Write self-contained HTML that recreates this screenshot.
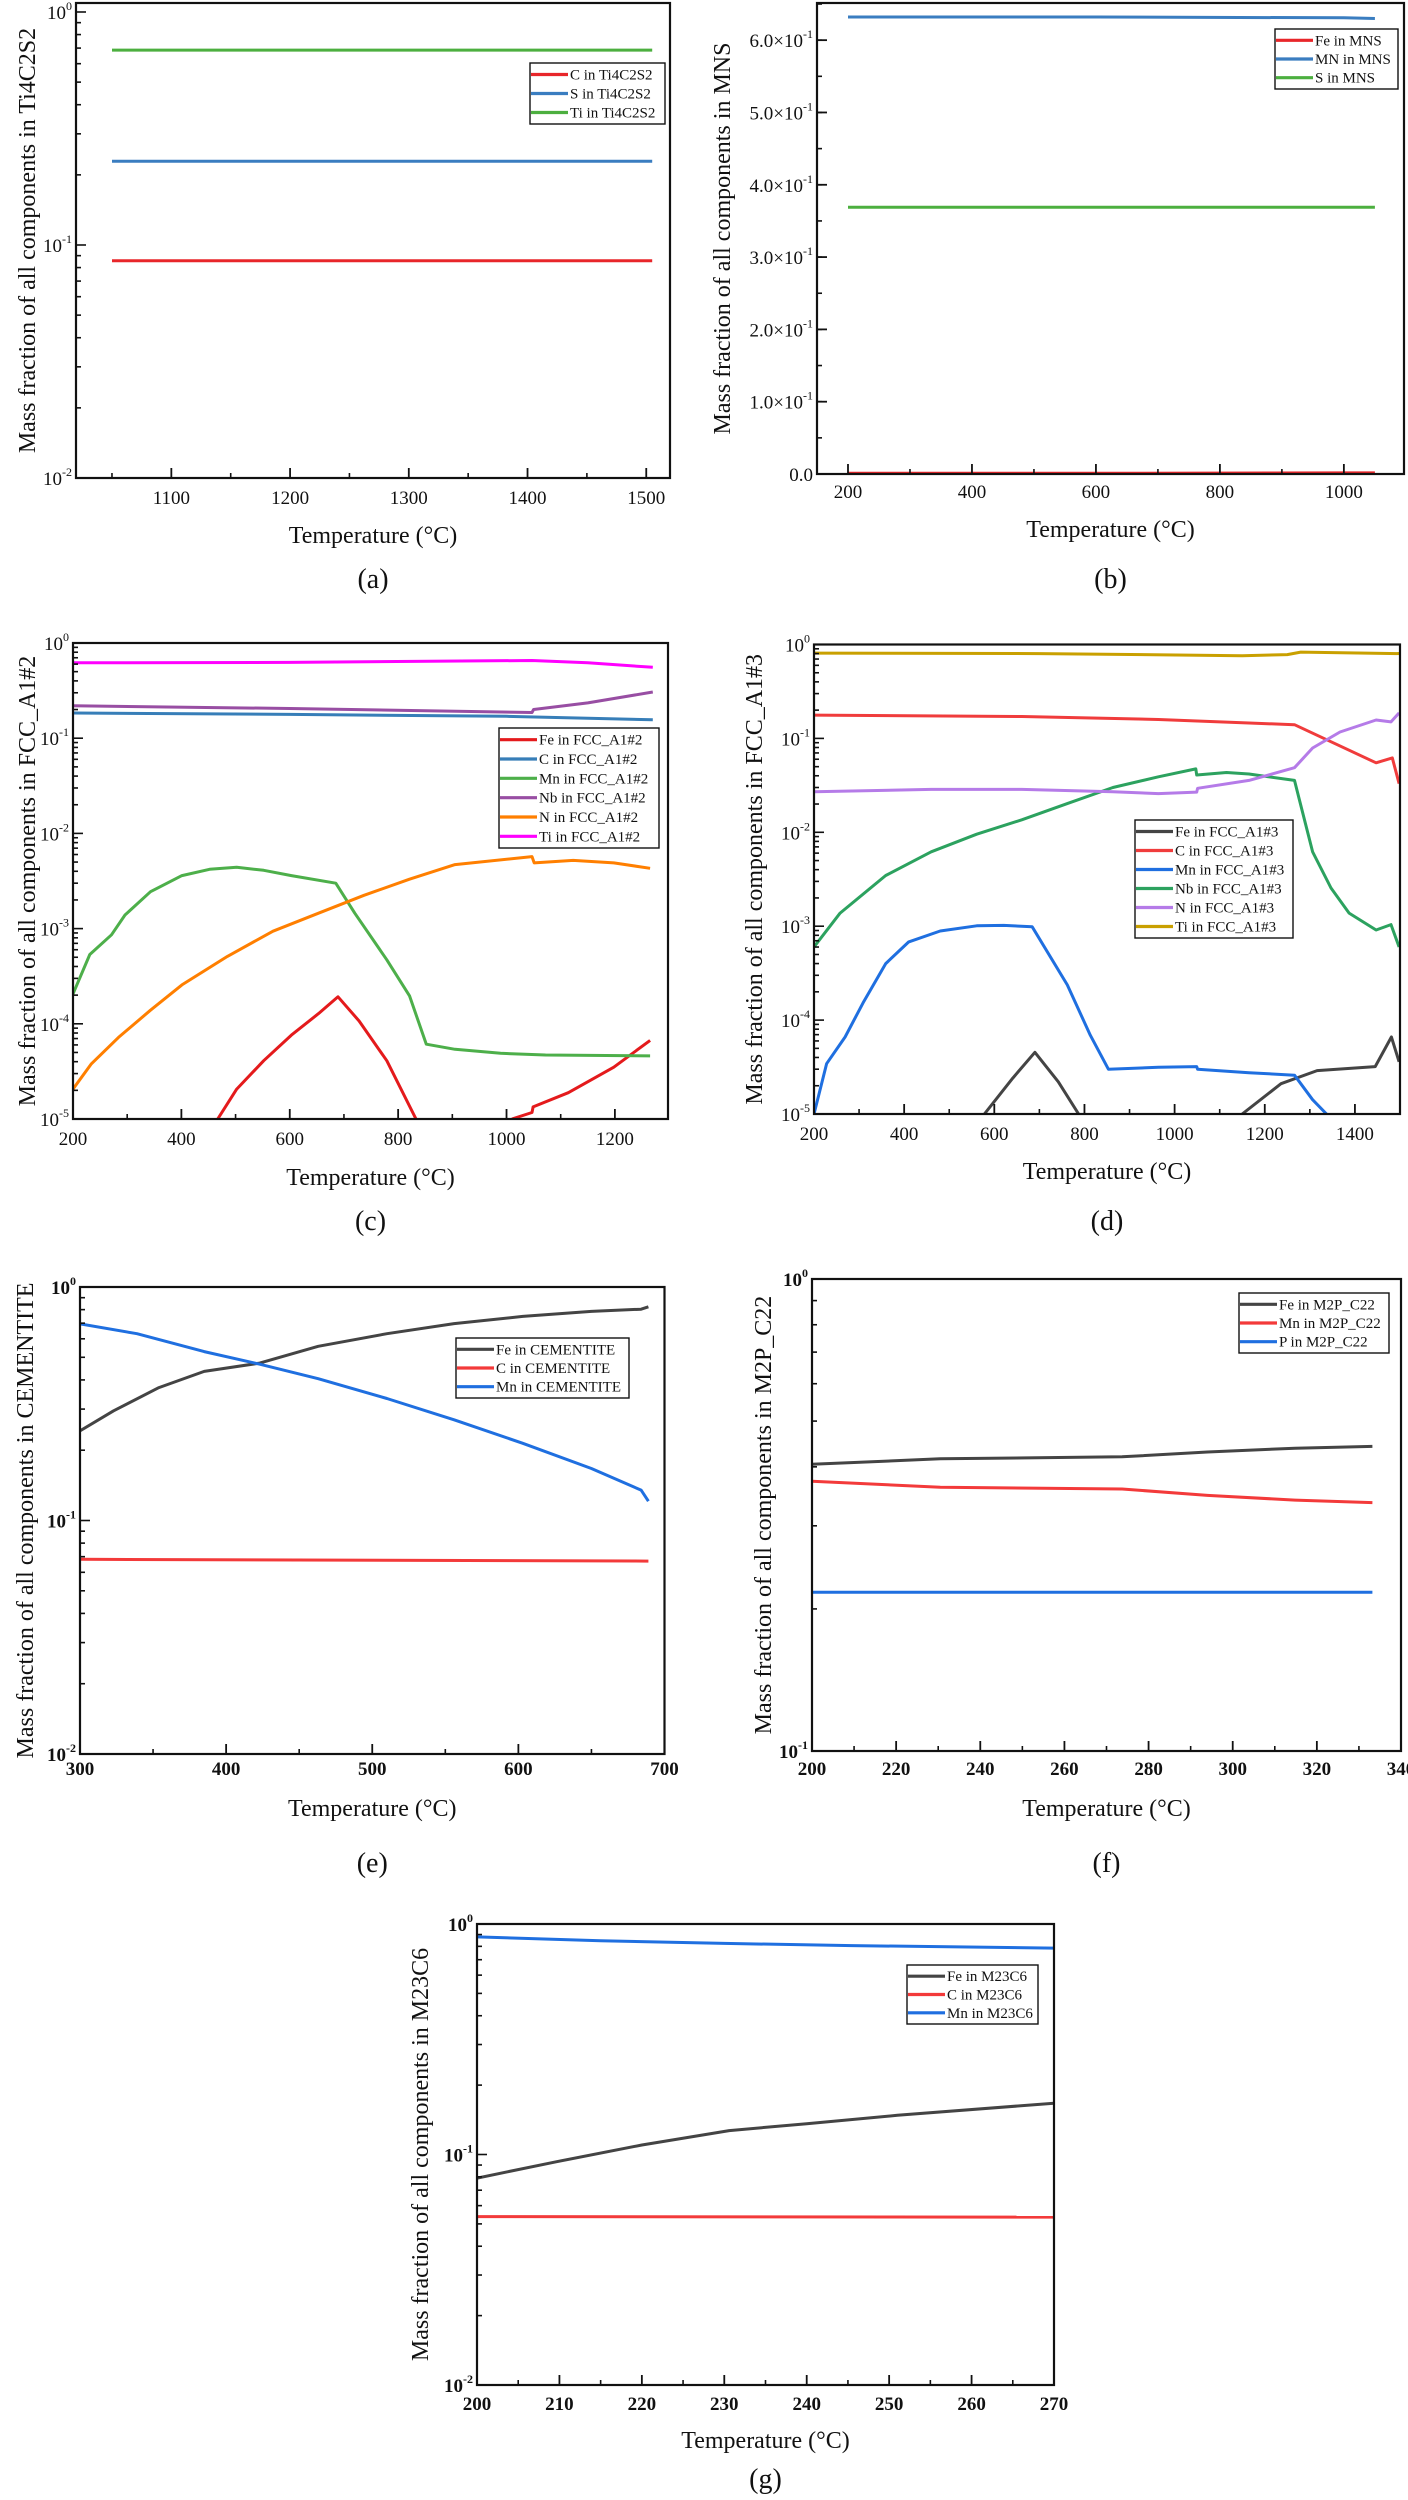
<!DOCTYPE html>
<html><head><meta charset="utf-8"><style>
html,body{margin:0;padding:0;background:#fff}
svg{display:block}
text{font-family:"Liberation Serif",serif;fill:#111}
</style></head><body>
<svg id="fig" width="1408" height="2500" viewBox="0 0 1408 2500" xmlns="http://www.w3.org/2000/svg"></svg>
<script>
// ---------- data ----------
// (a) Ti4C2S2
const aT = [1050, 1505];
const aC = [0.0855, 0.0855];
const aS = [0.229, 0.229];
const aTi = [0.686, 0.686];
// (b) MNS
const bT = [200, 600, 1000, 1050];
const bFe = [0.001, 0.001, 0.0015, 0.0015];
const bMN = [0.632, 0.632, 0.631, 0.630];
const bS = [0.369, 0.369, 0.369, 0.369];
// (c) FCC_A1#2
const cFeT = [467, 502, 552, 603, 653, 689, 728, 779, 833, null, 1010, 1047, 1049, 1114, 1198, 1265];
const cFe = [1e-5, 2.06e-5, 4.1e-5, 7.6e-5, 1.28e-4, 1.92e-4, 1.07e-4, 4.1e-5, 1e-5, null, 1e-5, 1.17e-5, 1.34e-5, 1.89e-5, 3.5e-5, 6.7e-5];
const cCT = [200, 600, 1000, 1270];
const cC = [0.184, 0.178, 0.17, 0.156];
const cMnT = [200, 231, 271, 296, 343, 401, 452, 502, 552, 603, 685, 720, 779, 821, 852, 905, 989, 1072, 1265];
const cMn = [2.06e-4, 5.35e-4, 8.6e-4, 1.39e-3, 2.44e-3, 3.6e-3, 4.2e-3, 4.4e-3, 4.1e-3, 3.6e-3, 3.0e-3, 1.45e-3, 4.7e-4, 1.97e-4, 6.1e-5, 5.4e-5, 4.9e-5, 4.7e-5, 4.6e-5];
const cNbT = [200, 600, 1047, 1050, 1150, 1270];
const cNb = [0.219, 0.205, 0.186, 0.2, 0.235, 0.306];
const cNT = [200, 234, 284, 343, 401, 485, 569, 653, 737, 821, 905, 1047, 1051, 1123, 1198, 1265];
const cN = [2.06e-5, 3.8e-5, 7.2e-5, 1.39e-4, 2.56e-4, 5.1e-4, 9.4e-4, 1.45e-3, 2.24e-3, 3.3e-3, 4.7e-3, 5.7e-3, 4.9e-3, 5.2e-3, 4.9e-3, 4.3e-3];
const cTiT = [200, 600, 1047, 1150, 1270];
const cTi = [0.62, 0.625, 0.655, 0.62, 0.555];
// (d) FCC_A1#3
const dFeT = [578, 641, 690, 742, 787, null, 1150, 1236, 1316, 1445, 1481, 1498];
const dFe = [1e-5, 2.41e-5, 4.54e-5, 2.2e-5, 1e-5, null, 1e-5, 2.1e-5, 2.9e-5, 3.2e-5, 6.6e-5, 3.6e-5];
const dCT = [200, 661, 964, 1165, 1266, 1447, 1483, 1498];
const dC = [0.177, 0.171, 0.159, 0.146, 0.14, 0.055, 0.062, 0.033];
const dMnT = [200, 228, 269, 309, 359, 410, 480, 561, 621, 684, 762, 813, 853, 964, 1049, 1051, 1165, 1266, 1306, 1337];
const dMn = [1e-5, 3.43e-5, 6.6e-5, 1.53e-4, 4.0e-4, 6.8e-4, 8.9e-4, 1.01e-3, 1.02e-3, 9.86e-4, 2.37e-4, 6.9e-5, 3.0e-5, 3.14e-5, 3.2e-5, 3.0e-5, 2.75e-5, 2.59e-5, 1.42e-5, 1e-5];
const dNbT = [200, 258, 359, 460, 561, 661, 762, 863, 964, 1047, 1049, 1115, 1165, 1266, 1276, 1306, 1347, 1387, 1447, 1480, 1498];
const dNb = [6e-4, 1.38e-3, 3.47e-3, 6.2e-3, 9.55e-3, 0.0136, 0.0202, 0.03, 0.039, 0.0473, 0.0408, 0.0433, 0.0418, 0.0357, 0.023, 6.2e-3, 2.55e-3, 1.38e-3, 9.1e-4, 1.04e-3, 6e-4];
const dNT = [200, 460, 661, 863, 964, 1049, 1051, 1165, 1266, 1306, 1367, 1447, 1480, 1498];
const dN = [0.027, 0.0286, 0.0286, 0.027, 0.0258, 0.0268, 0.0294, 0.0357, 0.0487, 0.079, 0.117, 0.157, 0.15, 0.187];
const dTiT = [200, 700, 1150, 1250, 1280, 1500];
const dTi = [0.81, 0.8, 0.76, 0.78, 0.83, 0.8];
// (e) CEMENTITE
const eT = [300, 323, 354, 385, 423, 463, 510, 556, 603, 650, 684, 689];
const eFe = [0.242, 0.295, 0.371, 0.435, 0.472, 0.557, 0.631, 0.697, 0.748, 0.786, 0.803, 0.823];
const eMnT = [300, 339, 385, 423, 463, 510, 556, 603, 650, 684, 689];
const eMn = [0.695, 0.631, 0.529, 0.467, 0.405, 0.333, 0.27, 0.214, 0.167, 0.135, 0.121];
const eCT = [300, 689];
const eC = [0.0682, 0.067];
// (f) M2P_C22
const fT = [200, 230.5, 273.7, 294, 314.8, 333.2];
const fFe = [0.405, 0.416, 0.42, 0.43, 0.438, 0.442];
const fMn = [0.373, 0.362, 0.359, 0.348, 0.34, 0.336];
const fP = [0.217, 0.217, 0.217, 0.217, 0.217, 0.217];
// (g) M23C6
const gMnT = [200, 215, 230, 245.5, 270];
const gMn = [0.879, 0.846, 0.824, 0.806, 0.786];
const gFeT = [200, 209.6, 220, 230.6, 240, 251, 270];
const gFe = [0.079, 0.093, 0.11, 0.127, 0.136, 0.148, 0.167];
const gCT = [200, 270];
const gC = [0.0538, 0.0535];

// tick labels
const aXTicks = [1100, 1200, 1300, 1400, 1500];
const bXTicks = [200, 400, 600, 800, 1000];
const bYTicks = [0, 0.1, 0.2, 0.3, 0.4, 0.5, 0.6];
const cXTicks = [200, 400, 600, 800, 1000, 1200];
const dXTicks = [200, 400, 600, 800, 1000, 1200, 1400];
const eXTicks = [300, 400, 500, 600, 700];
const fXTicks = [200, 220, 240, 260, 280, 300, 320, 340];
const gXTicks = [200, 210, 220, 230, 240, 250, 260, 270];

// ---------- drawing ----------
const NS = 'http://www.w3.org/2000/svg';
const svg = document.getElementById('fig');
function mk(tag, attrs, parent) {
  const e = document.createElementNS(NS, tag);
  for (const k in attrs) e.setAttribute(k, attrs[k]);
  (parent || svg).appendChild(e);
  return e;
}
let clipId = 0;
function chart(o) {
  const g = mk('g', {});
  
  
  const sx = v => o.L + (v - o.xmin) / (o.xmax - o.xmin) * (o.R - o.L);
  const sy = o.log
    ? v => o.B - (Math.log10(v) - o.ymin) / (o.ymax - o.ymin) * (o.B - o.T)
    : v => o.B - (v - o.ymin) / (o.ymax - o.ymin) * (o.B - o.T);
  const fw = o.bold ? 'bold' : 'normal';
  // clip
  const cid = 'clip' + (clipId++);
  const cp = mk('clipPath', { id: cid }, g);
  mk('rect', { x: o.L, y: o.T, width: o.R - o.L, height: o.B - o.T }, cp);
  // series
  const sg = mk('g', { 'clip-path': 'url(#' + cid + ')' }, g);
  o.series.forEach(s => {
    let d = '', pen = false;
    for (let i = 0; i < s.x.length; i++) {
      if (s.x[i] === null || s.y[i] === null) { pen = false; continue; }
      d += (pen ? 'L' : 'M') + sx(s.x[i]).toFixed(1) + ',' + sy(s.y[i]).toFixed(1);
      pen = true;
    }
    const p = mk('path', { d: d, fill: 'none', stroke: s.color, 'stroke-width': 3, 'stroke-linejoin': 'round' }, sg);
    
    
  });
  // frame
  const fr = mk('rect', { x: o.L, y: o.T, width: o.R - o.L, height: o.B - o.T, fill: 'none', stroke: '#111', 'stroke-width': 2.2 }, g);
  
  
  // x ticks
  const xa = mk('g', {}, g);
  
  
  o.xMinor.forEach(v => mk('line', { x1: sx(v), x2: sx(v), y1: o.B, y2: o.B - 5, stroke: '#111', 'stroke-width': 1.6 }, xa));
  o.xTicks.forEach(v => {
    mk('line', { x1: sx(v), x2: sx(v), y1: o.B, y2: o.B - 10, stroke: '#111', 'stroke-width': 1.8 }, xa);
    const t = mk('text', { x: sx(v), y: o.xtickY + 6, 'text-anchor': 'middle', 'font-size': 19, 'font-weight': fw }, xa);
    t.textContent = v;
  });
  const xt = mk('text', { x: (o.L + o.R) / 2, y: o.xtitleY + 8, 'text-anchor': 'middle', 'font-size': 24 }, g);
  xt.textContent = o.xtitle;
  
  
  // y ticks
  const ya = mk('g', {}, g);
  
  
  if (o.log) {
    for (let e = Math.floor(o.ymin); e <= Math.ceil(o.ymax); e++) {
      for (let m = 1; m < 10; m++) {
        const v = m * Math.pow(10, e);
        const lv = Math.log10(v);
        if (lv < o.ymin - 1e-9 || lv > o.ymax + 1e-9) continue;
        const y = sy(v);
        mk('line', { x1: o.L, x2: o.L + (m === 1 ? 10 : 5), y1: y, y2: y, stroke: '#111', 'stroke-width': 1.6 }, ya);
        if (m === 1) {
          const t = mk('text', { x: o.L - 4, y: y + 7, 'text-anchor': 'end', 'font-size': 19, 'font-weight': fw }, ya);
          const a = mk('tspan', {}, t); a.textContent = '10';
          const b = mk('tspan', { dy: -9, 'font-size': 12 }, t); b.textContent = String(e);
        }
      }
    }
  } else {
    for (let v = o.ymin; v <= o.ymax + 1e-9; v += 0.05) {
      const y = sy(v);
      mk('line', { x1: o.L, x2: o.L + 5, y1: y, y2: y, stroke: '#111', 'stroke-width': 1.6 }, ya);
    }
    o.yTicks.forEach(v => {
      const y = sy(v);
      mk('line', { x1: o.L, x2: o.L + 10, y1: y, y2: y, stroke: '#111', 'stroke-width': 1.8 }, ya);
      const t = mk('text', { x: o.L - 4, y: y + 7, 'text-anchor': 'end', 'font-size': 19 }, ya);
      if (v === 0) { t.textContent = '0.0'; }
      else {
        const a = mk('tspan', {}, t); a.textContent = (v * 10).toFixed(1) + '×10';
        const b = mk('tspan', { dy: -9, 'font-size': 12 }, t); b.textContent = '-1';
      }
    });
  }
  const ytx = o.ytitleX, yty = (o.T + o.B) / 2;
  const yt = mk('text', { x: ytx, y: yty, 'text-anchor': 'middle', 'font-size': 24, transform: 'rotate(-90 ' + ytx + ' ' + yty + ')', dy: 8 }, g);
  yt.textContent = o.ytitle;
  
  
  // legend
  const lg = mk('g', {}, g);
  
  
  const Lg = o.legend;
  mk('rect', { x: Lg.x, y: Lg.y, width: Lg.w, height: Lg.h, fill: '#fff', stroke: '#111', 'stroke-width': 1.4 }, lg);
  const rh = (Lg.h - 4) / o.series.length;
  o.series.forEach((s, i) => {
    const ent = mk('g', {}, lg);
    
    
    const y = Lg.y + 2 + rh * (i + 0.5);
    mk('line', { x1: Lg.x + 1, x2: Lg.x + 38, y1: y, y2: y, stroke: s.color, 'stroke-width': 3.2 }, ent);
    const t = mk('text', { x: Lg.x + 40, y: y + 5, 'font-size': 15 }, ent);
    t.textContent = s.label;
  });
  // panel label
  const pl = mk('text', { x: (o.L + o.R) / 2, y: o.labelY + 10, 'text-anchor': 'middle', 'font-size': 28 }, g);
  pl.textContent = o.label;
  
  
}
function rng(a, b, s) { const r = []; for (let v = a; v <= b + 1e-9; v += s) r.push(+v.toFixed(6)); return r; }

chart({ name: 'chart-a-ti4c2s2', L: 76, R: 670, T: 3, B: 478, xmin: 1019.7, xmax: 1520, log: true, ymin: -2, ymax: 0.0386,
  xTicks: aXTicks, xMinor: rng(1050, 1450, 100), xtickY: 498, xtitleY: 535, xtitle: 'Temperature (°C)',
  ytitle: 'Mass fraction of all components in Ti4C2S2', ytitleX: 27, label: '(a)', labelY: 578,
  legend: { x: 530, y: 63, w: 135, h: 61 },
  series: [
    { id: 'c', label: 'C in Ti4C2S2', color: '#e8262a', x: aT, y: aC },
    { id: 's', label: 'S in Ti4C2S2', color: '#3a7dc0', x: aT, y: aS },
    { id: 'ti', label: 'Ti in Ti4C2S2', color: '#4caf3f', x: aT, y: aTi }] });

chart({ name: 'chart-b-mns', L: 817, R: 1404, T: 3, B: 474, xmin: 150, xmax: 1097, log: false, ymin: 0, ymax: 0.6514,
  yTicks: bYTicks, xTicks: bXTicks, xMinor: rng(300, 900, 200), xtickY: 492, xtitleY: 529, xtitle: 'Temperature (°C)',
  ytitle: 'Mass fraction of all components  in MNS', ytitleX: 722, label: '(b)', labelY: 578,
  legend: { x: 1275, y: 29, w: 123, h: 60 },
  series: [
    { id: 'fe', label: 'Fe in MNS', color: '#e8262a', x: bT, y: bFe },
    { id: 'mn', label: 'MN in MNS', color: '#3a7dc0', x: bT, y: bMN },
    { id: 's', label: 'S in MNS', color: '#4caf3f', x: bT, y: bS }] });

chart({ name: 'chart-c-fcc-a1-2', L: 73, R: 668, T: 643, B: 1119, xmin: 200, xmax: 1298, log: true, ymin: -5, ymax: 0,
  xTicks: cXTicks, xMinor: rng(300, 1100, 200), xtickY: 1139, xtitleY: 1177, xtitle: 'Temperature  (°C)',
  ytitle: 'Mass fraction of all components in FCC_A1#2', ytitleX: 27, label: '(c)', labelY: 1220,
  legend: { x: 499, y: 728, w: 160, h: 120 },
  series: [
    { id: 'fe', label: 'Fe in FCC_A1#2', color: '#e41a1c', x: cFeT, y: cFe },
    { id: 'c', label: 'C in FCC_A1#2', color: '#377eb8', x: cCT, y: cC },
    { id: 'mn', label: 'Mn in FCC_A1#2', color: '#4daf4a', x: cMnT, y: cMn },
    { id: 'nb', label: 'Nb in FCC_A1#2', color: '#984ea3', x: cNbT, y: cNb },
    { id: 'n', label: 'N in FCC_A1#2', color: '#ff7f00', x: cNT, y: cN },
    { id: 'ti', label: 'Ti in FCC_A1#2', color: '#ff00ff', x: cTiT, y: cTi }] });

chart({ name: 'chart-d-fcc-a1-3', L: 814, R: 1400, T: 644.5, B: 1114, xmin: 200, xmax: 1500, log: true, ymin: -5, ymax: 0,
  xTicks: dXTicks, xMinor: rng(300, 1300, 200), xtickY: 1134, xtitleY: 1171, xtitle: 'Temperature  (°C)',
  ytitle: 'Mass fraction of all components in FCC_A1#3', ytitleX: 754, label: '(d)', labelY: 1220,
  legend: { x: 1135, y: 820, w: 158, h: 118 },
  series: [
    { id: 'fe', label: 'Fe in FCC_A1#3', color: '#444444', x: dFeT, y: dFe },
    { id: 'c', label: 'C in FCC_A1#3', color: '#f03c3c', x: dCT, y: dC },
    { id: 'mn', label: 'Mn in FCC_A1#3', color: '#1f6fe0', x: dMnT, y: dMn },
    { id: 'nb', label: 'Nb in FCC_A1#3', color: '#2ca25f', x: dNbT, y: dNb },
    { id: 'n', label: 'N in FCC_A1#3', color: '#b57be8', x: dNT, y: dN },
    { id: 'ti', label: 'Ti in FCC_A1#3', color: '#c9a000', x: dTiT, y: dTi }] });

chart({ name: 'chart-e-cementite', L: 80, R: 664.5, T: 1287, B: 1754, xmin: 300, xmax: 700, log: true, ymin: -2, ymax: 0, bold: true,
  xTicks: eXTicks, xMinor: rng(350, 650, 100), xtickY: 1769, xtitleY: 1808, xtitle: 'Temperature (°C)',
  ytitle: 'Mass fraction of all components in CEMENTITE', ytitleX: 25, label: '(e)', labelY: 1862,
  legend: { x: 456, y: 1338, w: 173, h: 60 },
  series: [
    { id: 'fe', label: 'Fe in CEMENTITE', color: '#444444', x: eT, y: eFe },
    { id: 'c', label: 'C in CEMENTITE', color: '#f33a3a', x: eCT, y: eC },
    { id: 'mn', label: 'Mn in CEMENTITE', color: '#1f6fe0', x: eMnT, y: eMn }] });

chart({ name: 'chart-f-m2p-c22', L: 812, R: 1401, T: 1279, B: 1751, xmin: 200, xmax: 340, log: true, ymin: -1, ymax: 0, bold: true,
  xTicks: fXTicks, xMinor: rng(210, 330, 20), xtickY: 1769, xtitleY: 1808, xtitle: 'Temperature (°C)',
  ytitle: 'Mass fraction of all components in M2P_C22', ytitleX: 763, label: '(f)', labelY: 1862,
  legend: { x: 1239, y: 1293, w: 150, h: 60 },
  series: [
    { id: 'fe', label: 'Fe in M2P_C22', color: '#444444', x: fT, y: fFe },
    { id: 'mn', label: 'Mn in M2P_C22', color: '#f33a3a', x: fT, y: fMn },
    { id: 'p', label: 'P in M2P_C22', color: '#1f6fe0', x: fT, y: fP }] });

chart({ name: 'chart-g-m23c6', L: 477, R: 1054, T: 1924, B: 2385, xmin: 200, xmax: 270, log: true, ymin: -2, ymax: 0, bold: true,
  xTicks: gXTicks, xMinor: rng(205, 265, 10), xtickY: 2404, xtitleY: 2440, xtitle: 'Temperature (°C)',
  ytitle: 'Mass fraction of all components in M23C6', ytitleX: 420, label: '(g)', labelY: 2478,
  legend: { x: 907, y: 1965, w: 131, h: 59 },
  series: [
    { id: 'fe', label: 'Fe in M23C6', color: '#444444', x: gFeT, y: gFe },
    { id: 'c', label: 'C in M23C6', color: '#f33a3a', x: gCT, y: gC },
    { id: 'mn', label: 'Mn in M23C6', color: '#1f6fe0', x: gMnT, y: gMn }] });
</script>
</body></html>
